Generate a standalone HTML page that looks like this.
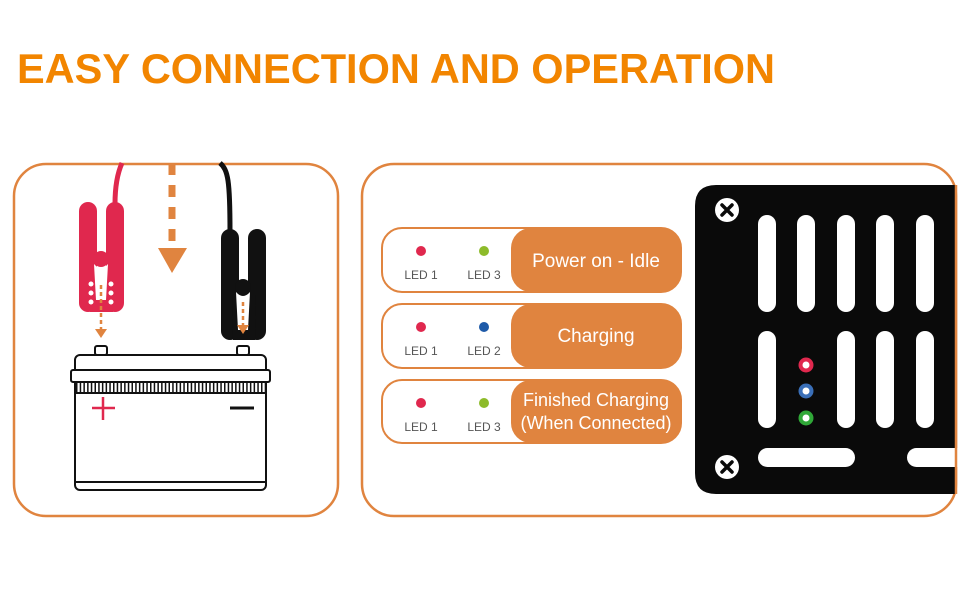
<!DOCTYPE html>
<html><head><meta charset="utf-8"><style>
html,body{margin:0;padding:0;background:#fff;}
svg{display:block;}
</style></head><body>
<svg width="970" height="600" viewBox="0 0 970 600" xmlns="http://www.w3.org/2000/svg">
<text x="17" y="83" font-family="Liberation Sans, sans-serif" font-weight="bold" font-size="42" fill="#f28500" textLength="758" lengthAdjust="spacingAndGlyphs">EASY CONNECTION AND OPERATION</text>

<!-- left box -->
<rect x="14" y="164" width="324" height="352" rx="32" fill="none" stroke="#e0843f" stroke-width="2.5"/>
<!-- red cable -->
<path d="M122 163 C118 172 115 185 115 204" fill="none" stroke="#e0284e" stroke-width="5"/>
<!-- red clamp -->
<rect x="79" y="202" width="18" height="110" rx="9" fill="#e0284e"/>
<rect x="106" y="202" width="18" height="110" rx="9" fill="#e0284e"/>
<path d="M89 268 L114 268 L113 312 L90 312 Z" fill="#e0284e"/>
<circle cx="101" cy="259" r="8" fill="#e0284e"/>
<path d="M94 264 Q101 272 108 264 L106 300 L96 300 Z" fill="#fff"/>
<g fill="#fff"><circle cx="91" cy="284" r="2.5"/><circle cx="91" cy="293" r="2.5"/><circle cx="91" cy="302" r="2.5"/><circle cx="111" cy="284" r="2.5"/><circle cx="111" cy="293" r="2.5"/><circle cx="111" cy="302" r="2.5"/></g>
<line x1="101" y1="285" x2="101" y2="330" stroke="#e0843f" stroke-width="2.5" stroke-dasharray="4 3"/>
<path d="M95 329 L107 329 L101 338 Z" fill="#e0843f"/>
<!-- black cable -->
<path d="M220 163 C228 170 230 180 230 232" fill="none" stroke="#111" stroke-width="5"/>
<!-- black clamp -->
<rect x="221" y="229" width="18" height="111" rx="9" fill="#111"/>
<rect x="248" y="229" width="18" height="111" rx="9" fill="#111"/>
<path d="M232 293 L256 293 L255 340 L233 340 Z" fill="#111"/>
<circle cx="243" cy="287" r="8" fill="#111"/>
<path d="M236 292 Q243 300 250 292 L248 330 L238 330 Z" fill="#fff"/>
<line x1="243" y1="302" x2="243" y2="327" stroke="#e0843f" stroke-width="2.5" stroke-dasharray="4 3"/>
<path d="M237 325 L249 325 L243 334 Z" fill="#e0843f"/>
<!-- big dashed arrow -->
<line x1="172" y1="163" x2="172" y2="243" stroke="#e0843f" stroke-width="7" stroke-dasharray="12 10"/>
<path d="M158 248 L187 248 L172 273 Z" fill="#e0843f"/>
<!-- battery -->
<g fill="none" stroke="#111" stroke-width="2">
<rect x="95" y="346" width="12" height="9" rx="2"/>
<rect x="237" y="346" width="12" height="9" rx="2"/>
<rect x="75" y="355" width="191" height="135" rx="5"/>
<rect x="71" y="370" width="199" height="12" rx="2" fill="#fff"/>
<line x1="75" y1="393" x2="266" y2="393"/>
<line x1="75" y1="482" x2="266" y2="482"/>
</g>
<line x1="76" y1="387" x2="265" y2="387" stroke="#111" stroke-width="10" stroke-dasharray="1.5 2.2"/>
<line x1="92" y1="408" x2="115" y2="408" stroke="#e0284e" stroke-width="2.5"/>
<line x1="103" y1="397" x2="103" y2="420" stroke="#e0284e" stroke-width="2.5"/>
<line x1="230" y1="408" x2="254" y2="408" stroke="#111" stroke-width="3"/>

<!-- right box -->
<rect x="362" y="164" width="594" height="352" rx="32" fill="none" stroke="#e0843f" stroke-width="2.5"/>
<!-- status rows -->
<g font-family="Liberation Sans, sans-serif">
<g>
<rect x="382" y="228" width="299" height="64" rx="20" fill="#fff" stroke="#e0843f" stroke-width="2"/>
<rect x="511" y="228" width="170" height="64" rx="20" fill="#e0843f"/>
<circle cx="421" cy="251" r="5" fill="#e0284e"/><circle cx="484" cy="251" r="5" fill="#8dbb2a"/>
<text x="421" y="279" font-size="12" fill="#555" text-anchor="middle">LED 1</text>
<text x="484" y="279" font-size="12" fill="#555" text-anchor="middle">LED 3</text>
<text x="596" y="267" font-size="19" fill="#fff" text-anchor="middle">Power on - Idle</text>
</g>
<g>
<rect x="382" y="304" width="299" height="64" rx="20" fill="#fff" stroke="#e0843f" stroke-width="2"/>
<rect x="511" y="304" width="170" height="64" rx="20" fill="#e0843f"/>
<circle cx="421" cy="327" r="5" fill="#e0284e"/><circle cx="484" cy="327" r="5" fill="#1e5aa8"/>
<text x="421" y="355" font-size="12" fill="#555" text-anchor="middle">LED 1</text>
<text x="484" y="355" font-size="12" fill="#555" text-anchor="middle">LED 2</text>
<text x="596" y="342" font-size="19" fill="#fff" text-anchor="middle">Charging</text>
</g>
<g>
<rect x="382" y="380" width="299" height="63" rx="20" fill="#fff" stroke="#e0843f" stroke-width="2"/>
<rect x="511" y="380" width="170" height="63" rx="20" fill="#e0843f"/>
<circle cx="421" cy="403" r="5" fill="#e0284e"/><circle cx="484" cy="403" r="5" fill="#8dbb2a"/>
<text x="421" y="431" font-size="12" fill="#555" text-anchor="middle">LED 1</text>
<text x="484" y="431" font-size="12" fill="#555" text-anchor="middle">LED 3</text>
<text x="596" y="406" font-size="18" fill="#fff" text-anchor="middle">Finished Charging</text>
<text x="596" y="429" font-size="18" fill="#fff" text-anchor="middle">(When Connected)</text>
</g>
</g>
<!-- device panel -->
<path d="M716 185 L956 185 L956 494 L716 494 Q695 494 695 473 L695 206 Q695 185 716 185 Z" fill="#0a0a0a"/>
<g fill="#fff">
<rect x="758" y="215" width="18" height="97" rx="9"/>
<rect x="797" y="215" width="18" height="97" rx="9"/>
<rect x="837" y="215" width="18" height="97" rx="9"/>
<rect x="876" y="215" width="18" height="97" rx="9"/>
<rect x="916" y="215" width="18" height="97" rx="9"/>
<rect x="758" y="331" width="18" height="97" rx="9"/>
<rect x="837" y="331" width="18" height="97" rx="9"/>
<rect x="876" y="331" width="18" height="97" rx="9"/>
<rect x="916" y="331" width="18" height="97" rx="9"/>
<rect x="758" y="448" width="97" height="19" rx="9.5"/>
<rect x="907" y="448" width="60" height="19" rx="9.5"/>
<circle cx="727" cy="210" r="12"/>
<circle cx="727" cy="467" r="12"/>
</g>
<g stroke="#0a0a0a" stroke-width="3.5" stroke-linecap="round">
<path d="M722 205 L732 215 M732 205 L722 215"/>
<path d="M722 462 L732 472 M732 462 L722 472"/>
</g>
<circle cx="806" cy="365" r="7.5" fill="#e0284e"/><circle cx="806" cy="365" r="3.5" fill="#fff"/>
<circle cx="806" cy="391" r="7.5" fill="#3a6fb8"/><circle cx="806" cy="391" r="3.5" fill="#fff"/>
<circle cx="806" cy="418" r="7.5" fill="#30a838"/><circle cx="806" cy="418" r="3.5" fill="#fff"/>
<line x1="956" y1="185" x2="956" y2="494" stroke="#e0843f" stroke-width="2.5"/>
</svg>
</body></html>
